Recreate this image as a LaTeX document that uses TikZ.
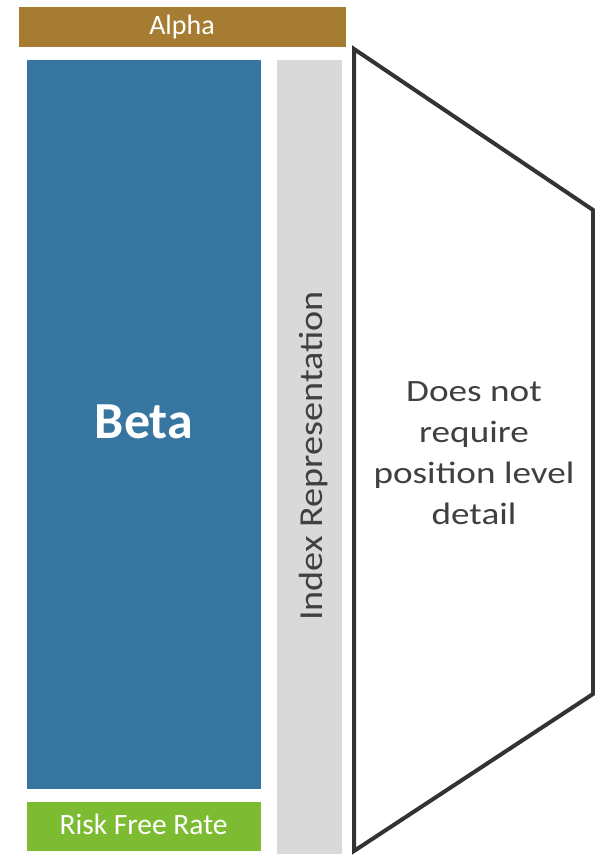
\documentclass[tikz,border=0pt]{standalone}
\usepackage{fontspec}
\setmainfont{Carlito}
\newfontfamily\widefont[FakeStretch=1.2]{Carlito}
\newfontfamily\sidefont[FakeStretch=1.14]{Carlito}
\definecolor{alphaC}{RGB}{166,124,50}
\definecolor{betaC}{RGB}{55,118,161}
\definecolor{rfrC}{RGB}{124,187,50}
\definecolor{grayC}{RGB}{217,217,217}
\definecolor{lineC}{RGB}{51,51,51}
\definecolor{txtC}{RGB}{64,64,64}
\begin{document}
\begin{tikzpicture}[x=1pt,y=1pt,
  whitetxt/.style={text=white, inner sep=0pt},
  darktxt/.style={text=txtC, inner sep=0pt}]
\useasboundingbox (0,0) rectangle (595,855);
% bars
\fill[alphaC] (19,808) rectangle (346,848);
\fill[betaC] (27,66) rectangle (261,795);
\fill[rfrC] (27,4) rectangle (261,53);
\fill[grayC] (277,1) rectangle (342,795);
% trapezoid
\coordinate (tl) at (354,806);
\coordinate (tr) at (593,645);
\coordinate (br) at (593,161);
\coordinate (bl) at (354,4);
\draw[lineC, line width=4pt] (tl) -- (tr) -- (br) -- (bl) -- cycle;
% labels
\node[whitetxt, anchor=base, font=\fontsize{28}{32}\selectfont] (alpha) at (182,820) {Alpha};
\node[whitetxt, font=\fontsize{52}{60}\bfseries\selectfont] (beta) at (144,433) {Beta};
\node[whitetxt, anchor=base, font=\fontsize{29.5}{34}\selectfont] (rfr) at (143.5,20) {Risk Free Rate};
\node[darktxt, rotate=90, anchor=base, font=\sidefont\fontsize{33.5}{38}\selectfont] (idx) at (322,399) {Index Representation};
\node[darktxt, align=center, font=\widefont\fontsize{31}{41}\selectfont] (desc) at (474,402) {Does not\\require\\position level\\detail};
\end{tikzpicture}
\end{document}
